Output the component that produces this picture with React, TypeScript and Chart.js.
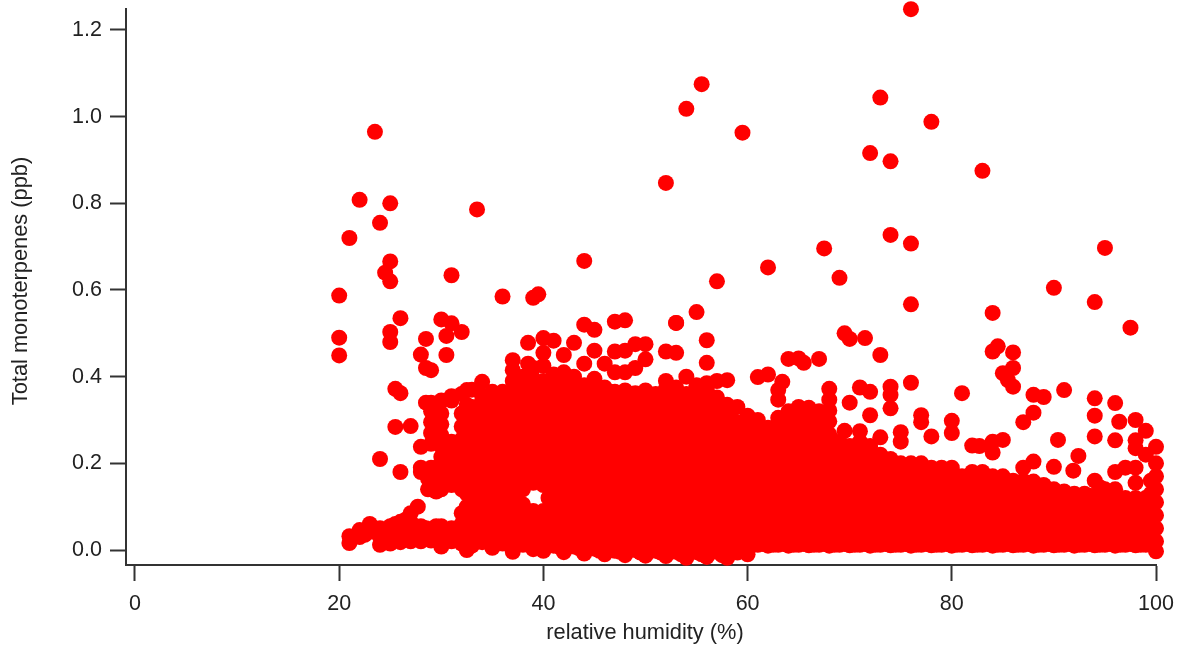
import React, { useEffect, useRef } from "react";
import { Chart, registerables } from "chart.js";

Chart.register(...registerables);

const xAxisTitle = "relative humidity (%)";
const yAxisTitle = "Total monoterpenes (ppb)";
const xTickValues = [0, 20, 40, 60, 80, 100];
const yTickValues = [0, 0.2, 0.4, 0.6, 0.8, 1.0, 1.2];

const sparseHumidity = [76,55.5,54,73,78,59.5,72,74,83,52,23.5,22,25,24,33.5,21,74,76,67.5,95,44,25,24.5,25,62,31,57,69,20,36,39,39.5,90,94,76,55,84,26,30,31,53,97.5,25,20,30.5,32,25,20,30.5,28.5,28,28.5,29,25.5,26,28.5,25.5,27,28,24,26,28,28,47,48,53,44,45,61,62,63.4,63,63,64,65,65.5,67,69.5,70,71.5,73,68,68,70,71,72,74,74,74,76,72,69.5,71,73,75,75,77,77,80,80,81,78,82,82.7,84,84.5,86,86,85,85.5,86,88,89,91,88,87,94,94,94,96,96.4,96,90.4,92.4,91.9,90,98,99,98,98,100,99,85,84,84,88,87];
const sparseValues = [1.248,1.075,1.018,1.044,0.988,0.963,0.916,0.897,0.875,0.847,0.965,0.808,0.8,0.755,0.786,0.72,0.727,0.707,0.696,0.697,0.667,0.666,0.64,0.62,0.652,0.634,0.62,0.628,0.587,0.585,0.582,0.59,0.605,0.572,0.567,0.549,0.547,0.535,0.532,0.523,0.524,0.513,0.503,0.49,0.494,0.503,0.48,0.449,0.45,0.487,0.451,0.42,0.415,0.372,0.362,0.34,0.284,0.286,0.238,0.21,0.18,0.19,0.18,0.527,0.53,0.524,0.52,0.508,0.399,0.405,0.388,0.369,0.347,0.441,0.442,0.432,0.441,0.5,0.487,0.489,0.45,0.372,0.347,0.34,0.375,0.365,0.377,0.358,0.327,0.386,0.311,0.275,0.274,0.26,0.272,0.25,0.311,0.295,0.298,0.27,0.362,0.262,0.241,0.24,0.458,0.47,0.456,0.42,0.408,0.392,0.377,0.358,0.353,0.369,0.317,0.295,0.35,0.31,0.262,0.339,0.296,0.253,0.254,0.217,0.183,0.192,0.3,0.275,0.253,0.235,0.238,0.22,0.254,0.25,0.225,0.204,0.19];

const denseHumidity = [21,22,22.5,23,24,24.5,25,25.5,26,26.5,27,27.7,28,28.5,28.7,29,29.5,30,31,32,32.5,33,34,35,36,37,38,38.5,39,40,41,42,43,44,45,46,47,48,49,50,51,52,53,54,55,56,57,58,59,60,61,62,63,64,65,66,67,68,69,70,71,72,73,74,75,76,77,78,79,80,81,82,83,84,85,86,87,88,89,90,91,92,93,94,95,96,97,98,99,100];
const denseValues = [
  [.016,.032],
  [.03,.046],
  [.035],
  [.042,.06],
  [.012,.03,.05],
  [.022,.04],
  [.015,.036,.055],
  [.024,.045,.06],
  [.018,.04,.065],
  [.028,.05,.07],
  [.02,.042,.065,.085],
  [.03,.1],
  [.02,.04,.055],
  [.03,.05],
  [.14,.165],
  [.022,.048,.14,.165,.19,.245,.27,.295,.32,.34],
  [.035,.055,.135,.16,.19,.265,.29,.31],
  [.008,.03,.055,.14,.165,.19,.215,.24,.265,.29,.315,.345],
  [.02,.05,.15,.175,.2,.225,.25,.345,.355],
  [.015,.04,.06,.085,.14,.165,.195,.225,.255,.285,.315,.36],
  [0,.03,.075,.1,.13,.21,.24,.27,.3,.335,.369],
  [.01,.045,.07,.1,.15,.18,.21,.24,.27,.3,.33,.37],
  [.018,.048,.08,.115,.145,.175,.205,.235,.265,.295,.325,.355,.388],
  [.005,.035,.065,.1,.13,.16,.19,.22,.25,.28,.31,.34,.365],
  [.015,.045,.075,.11,.14,.17,.2,.23,.26,.29,.32,.35,.365],
  [-.004,.03,.06,.09,.125,.155,.185,.215,.245,.275,.305,.335,.36,.39,.415,.438],
  [.012,.042,.072,.105,.14,.17,.2,.23,.26,.29,.32,.35,.38,.4],
  [.478,.43],
  [.002,.03,.06,.09,.155,.185,.215,.245,.275,.305,.335,.365,.395,.42],
  [-.002,.028,.058,.09,.15,.18,.21,.24,.27,.3,.33,.36,.39,.425,.455,.489],
  [.01,.04,.07,.1,.135,.165,.195,.225,.255,.285,.315,.345,.375,.405,.483],
  [-.005,.025,.055,.085,.115,.145,.175,.205,.235,.265,.295,.325,.355,.385,.41,.45],
  [.008,.038,.068,.098,.13,.16,.19,.22,.25,.28,.31,.34,.37,.4,.478],
  [-.008,.022,.052,.082,.112,.142,.172,.202,.232,.262,.292,.322,.352,.38,.43],
  [.003,.034,.064,.095,.127,.157,.188,.218,.248,.278,.308,.338,.368,.395,.46],
  [-.01,.02,.05,.08,.11,.14,.17,.2,.23,.26,.29,.32,.35,.375,.43],
  [-.002,.03,.06,.09,.125,.155,.185,.215,.245,.275,.305,.335,.365,.41,.458],
  [-.012,.018,.048,.078,.108,.138,.168,.198,.228,.258,.288,.318,.348,.368,.41,.46],
  [0,.03,.062,.092,.122,.152,.182,.212,.242,.272,.302,.332,.362,.42,.475],
  [-.013,.017,.047,.077,.107,.137,.167,.197,.227,.257,.287,.317,.347,.368,.44,.475],
  [-.002,.028,.058,.09,.12,.15,.18,.21,.24,.27,.3,.33,.36],
  [-.014,.016,.046,.076,.106,.136,.166,.196,.226,.256,.286,.316,.346,.372,.39,.458],
  [-.004,.027,.057,.087,.117,.147,.177,.207,.237,.267,.297,.327,.357,.375,.455],
  [-.018,.012,.042,.072,.102,.132,.162,.192,.222,.252,.282,.312,.342,.36,.4],
  [-.005,.025,.055,.085,.115,.145,.175,.205,.235,.265,.295,.325,.355,.38],
  [-.016,.014,.044,.074,.104,.134,.164,.194,.224,.254,.284,.314,.344,.37,.385,.432,.484],
  [-.004,.026,.056,.086,.116,.146,.176,.206,.236,.266,.296,.326,.352,.39],
  [-.018,.012,.042,.072,.102,.132,.162,.192,.222,.252,.282,.312,.335,.392],
  [-.006,.024,.054,.084,.114,.144,.174,.204,.234,.264,.294,.33],
  [-.01,.018,.048,.078,.108,.138,.168,.198,.228,.258,.288,.31],
  [.012,.04,.07,.1,.13,.16,.19,.22,.25,.28,.3],
  [.01,.026,.056,.086,.116,.146,.176,.206,.236,.266,.282],
  [.012,.042,.072,.102,.132,.162,.192,.222,.252,.282,.305],
  [.01,.028,.058,.088,.118,.148,.178,.208,.238,.268,.298,.32],
  [.012,.043,.073,.103,.133,.163,.193,.223,.253,.283,.313,.33],
  [.011,.029,.059,.089,.119,.149,.179,.209,.239,.269,.299,.328],
  [.012,.042,.072,.102,.132,.162,.192,.222,.252,.282,.32],
  [.01,.027,.057,.087,.117,.147,.177,.207,.237,.267,.297,.322],
  [.012,.041,.071,.101,.131,.161,.191,.221,.25],
  [.011,.026,.056,.086,.116,.146,.176,.206,.24],
  [.012,.042,.072,.102,.132,.162,.192,.222,.25],
  [.01,.028,.058,.088,.118,.148,.178,.208,.24],
  [.012,.043,.073,.103,.133,.163,.193,.22],
  [.011,.027,.057,.087,.117,.147,.177,.21],
  [.012,.042,.072,.102,.132,.162,.2],
  [.01,.028,.058,.088,.118,.148,.178,.2],
  [.012,.041,.071,.101,.131,.161,.2],
  [.011,.027,.057,.087,.117,.147,.177,.19],
  [.012,.042,.072,.102,.132,.162,.19],
  [.01,.028,.058,.088,.118,.148,.19],
  [.012,.043,.073,.103,.133,.17],
  [.011,.027,.057,.087,.117,.147,.18],
  [.012,.042,.072,.102,.132,.162,.18],
  [.01,.028,.058,.088,.118,.148,.17],
  [.012,.041,.071,.101,.131,.17],
  [.011,.027,.057,.087,.117,.16],
  [.012,.042,.072,.102,.132,.16],
  [.01,.028,.058,.088,.118,.158],
  [.012,.043,.073,.103,.15],
  [.011,.027,.057,.087,.117,.14],
  [.012,.042,.072,.102,.135],
  [.01,.028,.058,.088,.13],
  [.012,.041,.071,.101,.13],
  [.011,.027,.057,.087,.117,.16],
  [.012,.042,.072,.102,.14],
  [.01,.028,.058,.088,.14,.18],
  [.012,.043,.073,.103,.12,.19],
  [.011,.027,.057,.087,.12,.155,.19],
  [.012,.042,.072,.102,.12],
  [-.003,.02,.05,.08,.11,.14,.17,.2],
];

const fillHumidity = [33.5,34.5,35.5,36.5,37.5,38.5,39.5,40.5,41.5,42.5,43.5,44.5,45.5,46.5,47.5,48.5,49.5,50.5,51.5,52.5,53.5,54.5,55.5,56.5,57.5,58.5,59.5,60.5,61.5,62.5,63.5,64.5,65.5,66.5,67.5,68.5,69.5,70.5,71.5,72.5,73.5,74.5,75.5,76.5,77.5,78.5,79.5,80.5,81.5,82.5,83.5,84.5,85.5,86.5,87.5,88.5,89.5,90.5,91.5,92.5,93.5,94.5,95.5,96.5,97.5,98.5,99.5];
const fillValues = [
  [.03,.06,.09,.12,.15,.18,.21,.24,.27,.3,.33],
  [.02,.05,.09,.12,.15,.19,.22,.25,.28,.31,.34],
  [.03,.06,.09,.12,.15,.18,.21,.24,.27,.3,.33],
  [.02,.05,.09,.12,.155,.185,.21,.24,.27,.3,.34],
  [.02,.05,.08,.11,.14,.17,.2,.23,.26,.29,.32,.35],
  [.02,.05,.08,.17,.2,.23,.26,.29,.32,.35,.38],
  [.015,.045,.075,.16,.19,.22,.25,.28,.31,.34,.37],
  [.02,.05,.08,.12,.15,.18,.21,.24,.27,.3,.33,.36],
  [.008,.035,.065,.095,.125,.155,.185,.215,.245,.275,.305,.335,.365],
  [.015,.045,.075,.105,.135,.165,.195,.225,.255,.285,.315,.345,.37],
  [.004,.033,.063,.093,.123,.153,.183,.213,.243,.273,.303,.333,.363],
  [.012,.042,.072,.102,.132,.162,.192,.222,.252,.282,.312,.342,.372],
  [-.002,.028,.058,.088,.118,.148,.178,.208,.238,.268,.298,.328,.36],
  [.01,.04,.07,.1,.13,.16,.19,.22,.25,.28,.31,.34,.365],
  [-.004,.026,.056,.086,.116,.146,.176,.206,.236,.266,.296,.326,.356],
  [.008,.038,.068,.098,.128,.158,.188,.218,.248,.278,.308,.338,.36],
  [-.006,.024,.054,.084,.114,.144,.174,.204,.234,.264,.294,.324,.354],
  [.006,.036,.066,.096,.126,.156,.186,.216,.246,.276,.306,.336,.356],
  [-.006,.022,.052,.082,.112,.142,.172,.202,.232,.262,.292,.322,.35],
  [.006,.034,.064,.094,.124,.154,.184,.214,.244,.274,.304,.334,.36],
  [-.01,.02,.05,.08,.11,.14,.17,.2,.23,.26,.29,.32,.35],
  [.004,.034,.064,.094,.124,.154,.184,.214,.244,.274,.304,.334,.36],
  [-.01,.02,.05,.08,.11,.14,.17,.2,.23,.26,.29,.32,.345],
  [.004,.034,.064,.094,.124,.154,.184,.214,.244,.274,.304,.33],
  [-.012,.018,.048,.078,.108,.138,.168,.198,.228,.258,.288,.316],
  [.004,.034,.064,.094,.124,.154,.184,.214,.244,.274,.3],
  [-.002,.022,.052,.082,.112,.142,.172,.202,.232,.262,.29],
  [.012,.03,.06,.09,.12,.15,.18,.21,.24,.27],
  [.014,.044,.074,.104,.134,.164,.194,.224,.254],
  [.012,.03,.06,.09,.12,.15,.18,.21,.24,.27],
  [.014,.044,.074,.104,.134,.164,.194,.224,.254,.284],
  [.012,.03,.06,.09,.12,.15,.18,.21,.24,.27,.3],
  [.014,.044,.074,.104,.134,.164,.194,.224,.254,.284,.31],
  [.012,.03,.06,.09,.12,.15,.18,.21,.24,.27,.3],
  [.014,.044,.074,.104,.134,.164,.194,.224,.254,.284,.31],
  [.012,.03,.06,.09,.12,.15,.18,.21,.235],
  [.014,.044,.074,.104,.134,.164,.194,.225],
  [.012,.03,.06,.09,.12,.15,.18,.21,.235],
  [.014,.044,.074,.104,.134,.164,.194,.225],
  [.012,.03,.06,.09,.12,.15,.18,.205],
  [.014,.044,.074,.104,.134,.164,.19],
  [.012,.03,.06,.09,.12,.15,.18],
  [.014,.044,.074,.104,.134,.164,.19],
  [.012,.03,.06,.09,.12,.15,.18],
  [.014,.044,.074,.104,.134,.164,.185],
  [.012,.03,.06,.09,.12,.15,.175],
  [.014,.044,.074,.104,.134,.164],
  [.012,.03,.06,.09,.12,.15,.17],
  [.014,.044,.074,.104,.134,.16],
  [.012,.03,.06,.09,.12,.15,.17],
  [.014,.044,.074,.104,.134,.155],
  [.012,.03,.06,.09,.12,.15],
  [.014,.044,.074,.104,.134,.15],
  [.012,.03,.06,.09,.12,.145],
  [.014,.044,.074,.104,.13],
  [.012,.03,.06,.09,.12,.14],
  [.014,.044,.074,.104,.13],
  [.012,.03,.06,.09,.12],
  [.014,.044,.074,.104,.125],
  [.012,.03,.06,.09,.115],
  [.014,.044,.074,.104,.125],
  [.012,.03,.06,.09,.12,.145],
  [.014,.044,.074,.104,.13],
  [.012,.03,.06,.09,.115],
  [.014,.044,.074,.1],
  [.012,.03,.06,.09,.11],
  [.014,.044,.074,.1,.13,.16],
];

function App() {
  const ref = useRef<HTMLCanvasElement | null>(null);

  useEffect(() => {
    if (!ref.current) return;
    const points: { x: number; y: number }[] = [];
    denseHumidity.forEach((h, i) => denseValues[i].forEach((v) => points.push({ x: h, y: v })));
    fillHumidity.forEach((h, i) => fillValues[i].forEach((v) => points.push({ x: h, y: v })));
    sparseHumidity.forEach((h, i) => points.push({ x: h, y: sparseValues[i] }));

    const axisTitles = {
      id: "axisTitles",
      afterDraw(chart: any) {
        const { ctx } = chart;
        ctx.save();
        ctx.fillStyle = "#222";
        ctx.font = '21.8px "Liberation Sans"';
        ctx.textAlign = "center";
        ctx.textBaseline = "middle";
        ctx.fillText(xAxisTitle, 645, 633);
        ctx.translate(21, 281);
        ctx.rotate(-Math.PI / 2);
        ctx.fillText(yAxisTitle, 0, 0);
        ctx.restore();
      },
    };

    const zeroPadding = (s: any) => {
      s.paddingTop = 0;
      s.paddingBottom = 0;
      s.paddingLeft = 0;
      s.paddingRight = 0;
    };

    const chart = new Chart(ref.current, {
      type: "scatter",
      data: {
        datasets: [
          {
            label: yAxisTitle,
            data: points,
            backgroundColor: "#ff0000",
            borderWidth: 0,
            pointRadius: 8,
            clip: false,
          } as any,
        ],
      },
      options: {
        responsive: false,
        animation: false,
        layout: { padding: { top: 9, right: 25, left: 0, bottom: 0 } },
        plugins: { legend: { display: false }, tooltip: { enabled: false } },
        scales: {
          x: {
            type: "linear",
            min: -0.88,
            max: 100,
            afterBuildTicks: (s: any) => {
              s.ticks = xTickValues.map((value) => ({ value }));
            },
            afterFit: (s: any) => {
              s.height = 83;
              zeroPadding(s);
            },
            grid: { drawOnChartArea: false, tickLength: 16, tickColor: "#333", tickWidth: 2 },
            border: { color: "#333", width: 2 },
            ticks: {
              color: "#222",
              padding: 10,
              maxRotation: 0,
              autoSkip: false,
              font: { family: "Liberation Sans", size: 21.5 },
            },
          },
          y: {
            type: "linear",
            min: -0.0346,
            max: 1.2484,
            afterBuildTicks: (s: any) => {
              s.ticks = yTickValues.map((value) => ({ value }));
            },
            afterFit: (s: any) => {
              s.width = 126;
              zeroPadding(s);
            },
            grid: { drawOnChartArea: false, tickLength: 16, tickColor: "#333", tickWidth: 2 },
            border: { color: "#333", width: 2 },
            ticks: {
              color: "#222",
              padding: 8,
              autoSkip: false,
              font: { family: "Liberation Sans", size: 21.5 },
              callback: (v: any) => Number(v).toFixed(1),
            },
          },
        },
      },
      plugins: [axisTitles],
    } as any);
    return () => chart.destroy();
  }, []);

  return (
    <div style={{ position: "absolute", left: 0, top: 0, width: 1181, height: 648, background: "#fff" }}>
      <canvas ref={ref} width={1181} height={648} style={{ display: "block" }} />
    </div>
  );
}

export default App;
